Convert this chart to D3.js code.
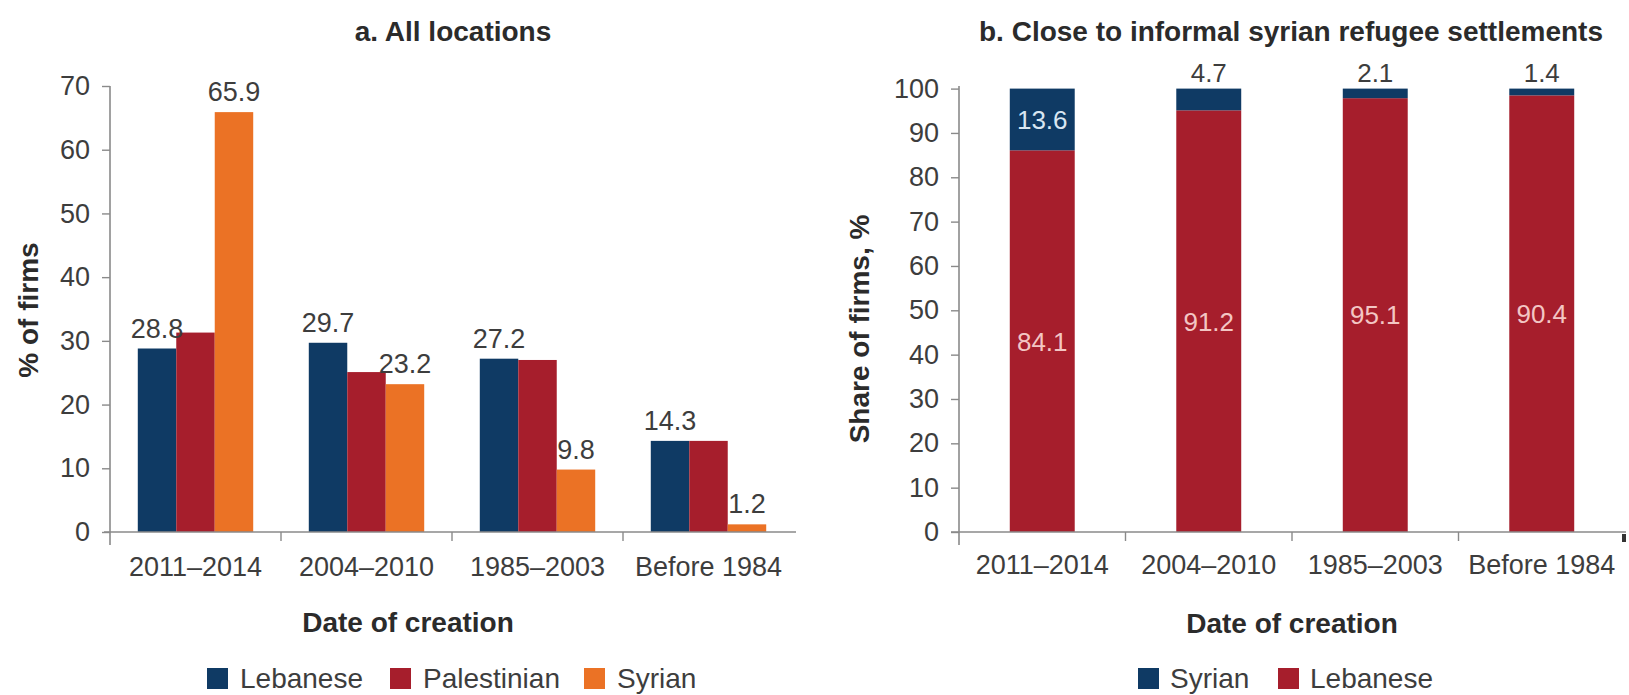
<!DOCTYPE html>
<html>
<head>
<meta charset="utf-8">
<script src="https://cdn.jsdelivr.net/npm/d3@7"></script>
<style>
body { margin: 0; background: #fff; }
svg { display: block; }
text { font-family: "Liberation Sans", Arial, sans-serif; }
</style>
</head>
<body>
<svg id="chart" width="1629" height="695"></svg>
<script>
// data
var periods = ["2011\u20132014", "2004\u20132010", "1985\u20132003", "Before 1984"];
var nationalities = ["Lebanese", "Palestinian", "Syrian"];
var lebaneseAll = [28.8, 29.7, 27.2, 14.3];
var palestinianAll = [31.3, 25.1, 27.0, 14.3];
var syrianAll = [65.9, 23.2, 9.8, 1.2];
var labelledAll = ["Lebanese", "Syrian"];   // which series carry a value label in panel a
var ticksA = [0, 10, 20, 30, 40, 50, 60, 70];

var settleKeys = ["Syrian", "Lebanese"];
var syrianNear = [13.6, 4.7, 2.1, 1.4];
var lebaneseNear = [84.1, 91.2, 95.1, 90.4];
var ticksB = [0, 10, 20, 30, 40, 50, 60, 70, 80, 90, 100];

var colors = { Lebanese: "#0f3a64", Palestinian: "#a61e2c", Syrian: "#eb7225" };
var colorsB = { Syrian: "#0f3a64", Lebanese: "#a61e2c" };

var svg = d3.select("#chart");
var axisColor = "#8a8a8a", textColor = "#3d3d3d";

// small helper: styles an axis group
function styleAxis(g, size) {
  g.select(".domain").attr("stroke", axisColor).attr("stroke-width", 1.6);
  g.selectAll(".tick line").attr("stroke", axisColor).attr("stroke-width", 1.4);
  g.selectAll(".tick text").attr("fill", textColor).attr("font-size", size).attr("font-family", null);
}

// boundary tick marks between categories
function boundaryTicks(x, y0, n) {
  var step = x.step();
  var r = x.range();
  var pos = d3.range(1, n).map(function (i) { return r[0] + step * i; });
  svg.append("g").selectAll("line").data(pos).enter().append("line")
    .attr("x1", function (d) { return d; }).attr("x2", function (d) { return d; })
    .attr("y1", y0).attr("y2", y0 + 9)
    .attr("stroke", axisColor).attr("stroke-width", 1.4);
}

// ---------- panel a ----------
var rowsA = periods.map(function (p, i) {
  return { period: p, Lebanese: lebaneseAll[i], Palestinian: palestinianAll[i], Syrian: syrianAll[i] };
});

var x0 = d3.scaleBand().domain(periods).range([110, 794]).paddingInner(0.325).paddingOuter(0.1625);
var x1 = d3.scaleBand().domain(nationalities).range([0, x0.bandwidth()]);
var yA = d3.scaleLinear().domain([0, 70]).range([532, 86]);

var gA = svg.append("g");
var groups = gA.selectAll("g.grp").data(rowsA).enter().append("g")
  .attr("class", "grp")
  .attr("transform", function (d) { return "translate(" + x0(d.period) + ",0)"; });

groups.selectAll("rect").data(function (d) {
  return nationalities.map(function (k) { return { key: k, value: d[k] }; });
}).enter().append("rect")
  .attr("x", function (d) { return x1(d.key); })
  .attr("y", function (d) { return yA(d.value); })
  .attr("width", x1.bandwidth())
  .attr("height", function (d) { return yA(0) - yA(d.value); })
  .attr("fill", function (d) { return colors[d.key]; });

groups.selectAll("text.val").data(function (d) {
  return labelledAll.map(function (k) { return { key: k, value: d[k] }; });
}).enter().append("text")
  .attr("class", "val")
  .attr("x", function (d) { return x1(d.key) + x1.bandwidth() / 2; })
  .attr("y", function (d) { return yA(d.value) - 11; })
  .attr("text-anchor", "middle")
  .attr("font-size", 27)
  .attr("fill", textColor)
  .text(function (d) { return d.value.toFixed(1); });

var yAxisA = svg.append("g").attr("transform", "translate(110,0)")
  .call(d3.axisLeft(yA).tickValues(ticksA).tickSize(8).tickPadding(12));
styleAxis(yAxisA, 27);
yAxisA.select(".domain").attr("d", "M0,86V545");

var xAxisA = svg.append("g").attr("transform", "translate(0,532)")
  .call(d3.axisBottom(x0).tickSize(0).tickPadding(25));
styleAxis(xAxisA, 27);
xAxisA.select(".domain").attr("d", "M104,0H796");
boundaryTicks(x0, 532, periods.length);

svg.append("text").attr("x", 453).attr("y", 41).attr("text-anchor", "middle")
  .attr("font-size", 28).attr("font-weight", "bold").attr("fill", "#2b2b2b")
  .text("a. All locations");
svg.append("text").attr("transform", "translate(38,310) rotate(-90)").attr("text-anchor", "middle")
  .attr("font-size", 28).attr("font-weight", "bold").attr("fill", "#2b2b2b")
  .text("% of firms");
svg.append("text").attr("x", 408).attr("y", 632).attr("text-anchor", "middle")
  .attr("font-size", 28).attr("font-weight", "bold").attr("fill", "#2b2b2b")
  .text("Date of creation");

var legA = svg.append("g");
var legAX = [207, 390, 584];
nationalities.forEach(function (k, i) {
  legA.append("rect").attr("x", legAX[i]).attr("y", 668).attr("width", 21).attr("height", 21).attr("fill", colors[k]);
  legA.append("text").attr("x", legAX[i] + 33).attr("y", 688).attr("font-size", 28).attr("fill", textColor).text(k);
});

// ---------- panel b ----------
var rowsB = periods.map(function (p, i) {
  return { period: p, Syrian: syrianNear[i], Lebanese: lebaneseNear[i] };
});
var stackB = d3.stack().keys(["Lebanese", "Syrian"]).offset(d3.stackOffsetExpand)(rowsB);

var xB = d3.scaleBand().domain(periods).range([959, 1625]).paddingInner(0.61).paddingOuter(0.305);
var yB = d3.scaleLinear().domain([0, 100]).range([532, 88.6]);

var gB = svg.append("g");
gB.selectAll("g.layer").data(stackB).enter().append("g")
  .attr("class", "layer")
  .attr("fill", function (d) { return colorsB[d.key]; })
  .selectAll("rect").data(function (d) { return d; }).enter().append("rect")
  .attr("x", function (d) { return xB(d.data.period); })
  .attr("y", function (d) { return yB(d[1] * 100); })
  .attr("width", xB.bandwidth())
  .attr("height", function (d) { return yB(d[0] * 100) - yB(d[1] * 100); });

// Lebanese labels sit in the middle of the red segment
gB.selectAll("text.leb").data(stackB[0]).enter().append("text")
  .attr("x", function (d) { return xB(d.data.period) + xB.bandwidth() / 2; })
  .attr("y", function (d) { return yB((d[0] + d[1]) * 50); })
  .attr("dy", "0.36em")
  .attr("text-anchor", "middle").attr("font-size", 26).attr("fill", "#f3c6c4")
  .text(function (d) { return d.data.Lebanese.toFixed(1); });

// Syrian labels: inside the segment when it is tall enough, above the bar otherwise
gB.selectAll("text.syr").data(stackB[1]).enter().append("text")
  .attr("x", function (d) { return xB(d.data.period) + xB.bandwidth() / 2; })
  .attr("y", function (d) {
    var h = yB(d[0] * 100) - yB(d[1] * 100);
    return h > 30 ? yB((d[0] + d[1]) * 50) : yB(d[1] * 100) - 16;
  })
  .attr("dy", "0.36em")
  .attr("text-anchor", "middle").attr("font-size", 26)
  .attr("fill", function (d) { return (yB(d[0] * 100) - yB(d[1] * 100)) > 30 ? "#d9e6f2" : textColor; })
  .text(function (d) { return d.data.Syrian.toFixed(1); });

var yAxisB = svg.append("g").attr("transform", "translate(959,0)")
  .call(d3.axisLeft(yB).tickValues(ticksB).tickSize(8).tickPadding(12));
styleAxis(yAxisB, 27);
yAxisB.select(".domain").attr("d", "M0,86V545");

var xAxisB = svg.append("g").attr("transform", "translate(0,532)")
  .call(d3.axisBottom(xB).tickSize(0).tickPadding(23));
styleAxis(xAxisB, 27);
xAxisB.select(".domain").attr("d", "M951,0H1626");
boundaryTicks(xB, 532, periods.length);
// little dark end mark at the right end of the axis
svg.append("line").attr("x1", 1624).attr("x2", 1624).attr("y1", 534).attr("y2", 542)
  .attr("stroke", "#333").attr("stroke-width", 4);

svg.append("text").attr("x", 1291).attr("y", 41).attr("text-anchor", "middle")
  .attr("font-size", 28).attr("font-weight", "bold").attr("fill", "#2b2b2b")
  .text("b. Close to informal syrian refugee settlements");
svg.append("text").attr("transform", "translate(869,329) rotate(-90)").attr("text-anchor", "middle")
  .attr("font-size", 28).attr("font-weight", "bold").attr("fill", "#2b2b2b")
  .text("Share of firms, %");
svg.append("text").attr("x", 1292).attr("y", 633).attr("text-anchor", "middle")
  .attr("font-size", 28).attr("font-weight", "bold").attr("fill", "#2b2b2b")
  .text("Date of creation");

var legB = svg.append("g");
var legBX = [1138, 1278];
settleKeys.forEach(function (k, i) {
  legB.append("rect").attr("x", legBX[i]).attr("y", 668).attr("width", 21).attr("height", 21).attr("fill", colorsB[k]);
  legB.append("text").attr("x", legBX[i] + 32).attr("y", 688).attr("font-size", 28).attr("fill", textColor).text(k);
});
</script>
</body>
</html>
